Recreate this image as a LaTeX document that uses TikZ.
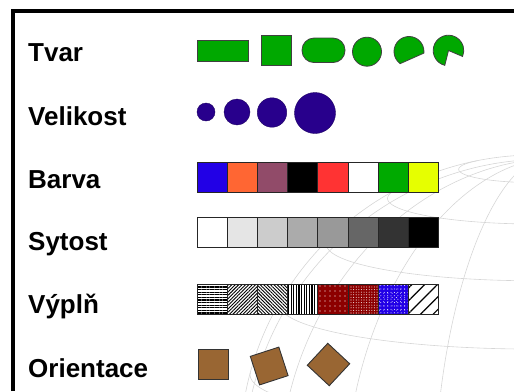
\documentclass[tikz,border=0pt]{standalone}
\usepackage{fontspec}
\setmainfont{Liberation Sans}
\usetikzlibrary{patterns.meta}

\definecolor{zelena}{RGB}{0,168,0}
\definecolor{modra}{RGB}{40,0,140}
\definecolor{hneda}{RGB}{153,102,51}
\definecolor{vinova}{RGB}{140,0,0}
\definecolor{bA}{RGB}{34,0,230}
\definecolor{bB}{RGB}{255,102,51}
\definecolor{bC}{RGB}{145,75,105}
\definecolor{bD}{RGB}{0,0,0}
\definecolor{bE}{RGB}{255,51,51}
\definecolor{bF}{RGB}{255,255,255}
\definecolor{bG}{RGB}{0,170,0}
\definecolor{bH}{RGB}{230,255,0}

\tikzset{
  popis/.style={anchor=base west, inner sep=0pt, font=\fontsize{26}{28}\selectfont\bfseries},
  tvar/.style={draw=black!75, fill=zelena, line width=0.8pt, inner sep=0pt},
  bod/.style={circle, draw=modra!70!black, fill=modra, inner sep=0pt, minimum size=#1},
  ctverec/.style={draw=black!80, fill=hneda, line width=0.9pt, minimum size=30pt, inner sep=0pt},
  bunka/.style={draw=black!85, line width=0.6pt},
  globus/.style={draw=black!16, line width=0.6pt},
}

\begin{document}
\begin{tikzpicture}[x=1pt,y=-1pt]
    \useasboundingbox (0,0) rectangle (514,391);
    % globus v pozadi
    \begin{scope}
        \clip (13,11) rectangle (514,391);
        \def\gx{535} \def\gy{450} \def\gr{295} \def\ge{10}
        \draw[globus] (\gx,\gy) circle[radius=\gr];
        \foreach \l in {-80,-60,...,80}
            \draw[globus] plot[domain=-90:90, samples=50, smooth, variable=\p]
                ({\gx+\gr*cos(\p)*sin(\l)}, {\gy-\gr*(sin(\p)*cos(\ge)-cos(\p)*cos(\l)*sin(\ge))});
        \foreach \p in {-75,-60,...,75} {
            \pgfmathsetmacro\lm{acos(max(-1,min(1,-tan(\p)*tan(\ge))))}
            \draw[globus] plot[domain=-\lm:\lm, samples=60, smooth, variable=\l]
                ({\gx+\gr*cos(\p)*sin(\l)}, {\gy-\gr*(sin(\p)*cos(\ge)-cos(\p)*cos(\l)*sin(\ge))});
        }
    \end{scope}

    % popisky
    \node[popis] (tvar) at (28,61) {Tvar};
    \node[popis] (velikost) at (28,125) {Velikost};
    \node[popis] (barva) at (28,188) {Barva};
    \node[popis] (sytost) at (28,250) {Sytost};
    \node[popis] (vypln) at (28,313) {Výplň};
    \node[popis] (orientace) at (28,377) {Orientace};

    % tvar
    \node[tvar, minimum width=51pt, minimum height=20.5pt] (obdelnik) at (223.3,51) {};
    \node[tvar, minimum size=30pt] (ctv) at (276,50) {};
    \node[tvar, minimum width=43pt, minimum height=24.5pt, rounded corners=12pt] (oval) at (323.5,50.3) {};
    \node[tvar, circle, minimum size=29pt] (kruh) at (367,51.7) {};
    \draw[tvar] (409,51.5) ++(126:15) arc[start angle=126, end angle=366, radius=15] -- cycle;
    \draw[tvar] (448.5,50.5) -- ++(104:15.3) arc[start angle=104, end angle=383, radius=15.3] -- cycle;

    % velikost
    \node[bod=18pt] (k1) at (206,112) {};
    \node[bod=26pt] (k2) at (237,112) {};
    \node[bod=29.5pt] (k3) at (272,112.5) {};
    \node[bod=41pt] (k4) at (315,113) {};

    % barva
    \foreach \b [count=\i from 0] in {bA,bB,bC,bD,bE,bF,bG,bH}
        \draw[bunka, fill=\b] ({197.3+30.1*\i},162.3) rectangle ++(30.1,30.4);

    % sytost
    \foreach \s [count=\i from 0] in {0,10,20,33,40,60,80,100}
        \draw[bunka, fill=black!\s] ({197.3+30.1*\i},217.3) rectangle ++(30.1,30);

    % vypln
    \fill[white] (197.3,284) rectangle ++(240.8,30);
    \fill[pattern={Lines[angle=0,distance=2.6pt,line width=1.1pt]}] (197.3,284) rectangle ++(30.1,30);
    \fill[pattern={Lines[angle=45,distance=2.4pt,line width=0.9pt]}] (227.4,284) rectangle ++(30.1,30);
    \fill[pattern={Lines[angle=-45,distance=2.4pt,line width=0.9pt]}] (257.5,284) rectangle ++(30.1,30);
    \fill[pattern={Lines[angle=90,distance=2.6pt,line width=1.1pt]}] (287.6,284) rectangle ++(30.1,30);
    \fill[vinova] (317.7,284) rectangle ++(30.1,30);
    \fill[pattern={Dots[distance=5pt,radius=0.6pt]}, pattern color=white] (317.7,284) rectangle ++(30.1,30);
    \fill[vinova] (347.8,284) rectangle ++(30.1,30);
    \fill[pattern={Dots[distance=2.6pt,radius=0.55pt]}, pattern color=white!85!vinova] (347.8,284) rectangle ++(30.1,30);
    \fill[bA] (377.9,284) rectangle ++(30.1,30);
    \fill[pattern={Dots[distance=3.4pt,radius=0.5pt]}, pattern color=white] (377.9,284) rectangle ++(30.1,30);
    \fill[pattern={Dots[distance=4.2pt,radius=0.45pt,xshift=1.5pt,yshift=1.1pt]}, pattern color=white] (377.9,284) rectangle ++(30.1,30);
    \fill[pattern={Lines[angle=45,distance=9pt,line width=1.2pt]}] (408,284) rectangle ++(30.1,30);
    \foreach \i in {1,...,7}
        \draw[bunka] ({197.3+30.1*\i},284) -- ++(0,30);
    \draw[bunka] (197.3,284) rectangle ++(240.8,30);

    % orientace
    \node[ctverec] (sq1) at (213,364.7) {};
    \node[ctverec, rotate=18] (sq2) at (269.2,366) {};
    \node[ctverec, rotate=47] (sq3) at (328.5,364.5) {};

    % ramecek
    \draw[line width=4pt] (13,391) -- (13,11) -- (514,11);
\end{tikzpicture}
\end{document}
